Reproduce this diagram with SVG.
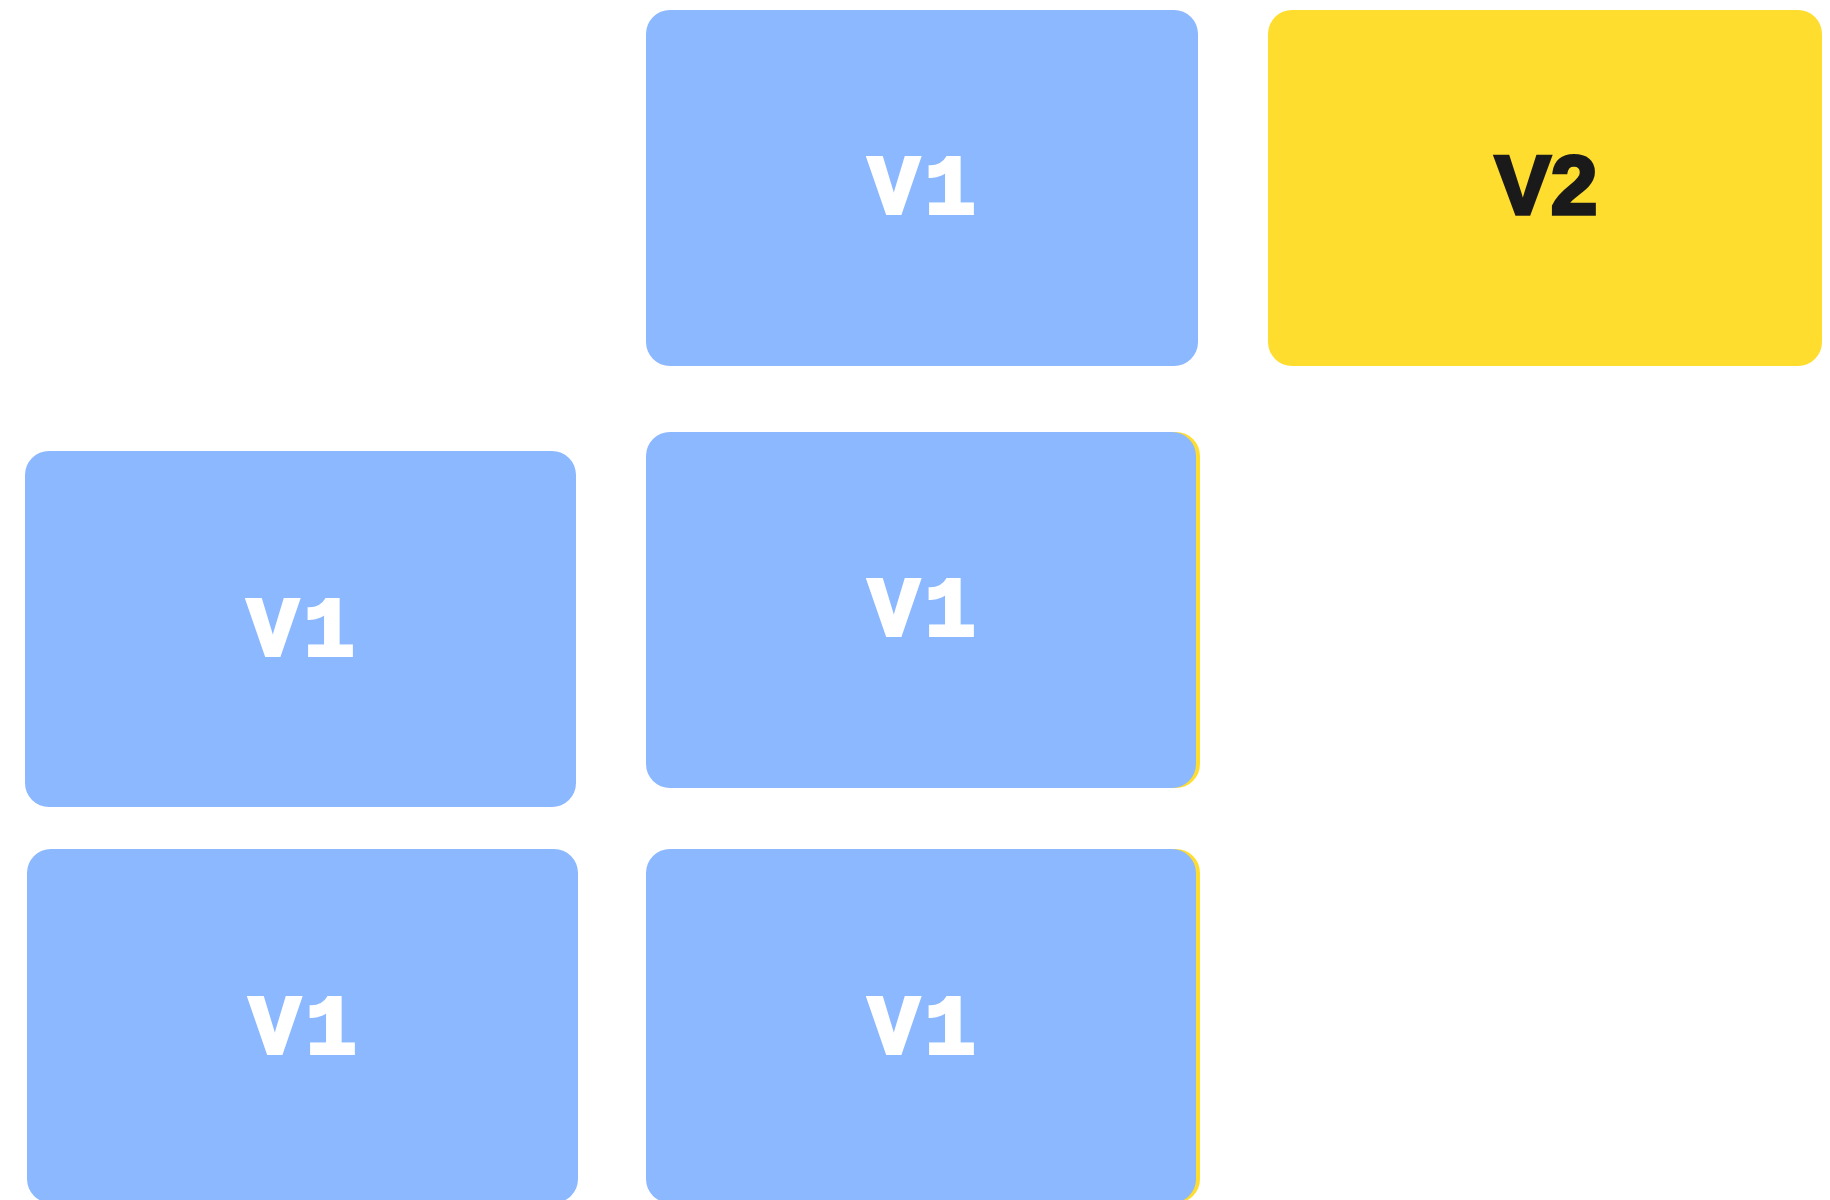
<svg xmlns="http://www.w3.org/2000/svg" width="1830" height="1200" viewBox="0 0 1830 1200">
  <style>
    .v1 { fill: #8cb8ff; }
    .v2 { fill: #ffdd2e; }
    .lbl1 { font-family: "Liberation Mono", "DejaVu Sans Mono", monospace; font-weight: bold; font-size: 84px; letter-spacing: 6px; fill: #ffffff; stroke: #ffffff; stroke-width: 4; stroke-linejoin: miter; text-anchor: middle; }
    .lbl2 { font-family: "Liberation Sans", Arial, sans-serif; font-weight: bold; font-size: 84px; fill: #1a1a1a; stroke: #1a1a1a; stroke-width: 3.5; stroke-linejoin: miter; text-anchor: middle; }
  </style>
  <rect width="1830" height="1200" fill="#ffffff"/>

  <g id="node-top-v1">
    <rect class="v1" x="646" y="10" width="552" height="356" rx="24"/>
    <text class="lbl1" x="925" y="213">V1</text>
  </g>

  <g id="node-top-v2">
    <rect class="v2" x="1268" y="10" width="554" height="356" rx="24"/>
    <text class="lbl2" x="1546" y="214">V2</text>
  </g>

  <g id="node-mid-v1">
    <rect class="v2" x="650" y="432" width="550" height="356" rx="24"/>
    <rect class="v1" x="646" y="432" width="550" height="356" rx="24"/>
    <text class="lbl1" x="925" y="635">V1</text>
  </g>

  <g id="node-left-v1">
    <rect class="v1" x="25" y="451" width="551" height="356" rx="24"/>
    <text class="lbl1" x="304" y="655">V1</text>
  </g>

  <g id="node-bottom-left-v1">
    <rect class="v1" x="27" y="849" width="551" height="354" rx="24"/>
    <text class="lbl1" x="306" y="1053">V1</text>
  </g>

  <g id="node-bottom-mid-v1">
    <rect class="v2" x="650" y="849" width="550" height="354" rx="24"/>
    <rect class="v1" x="646" y="849" width="550" height="354" rx="24"/>
    <text class="lbl1" x="925" y="1053">V1</text>
  </g>

  <g id="connectors"/>
</svg>
